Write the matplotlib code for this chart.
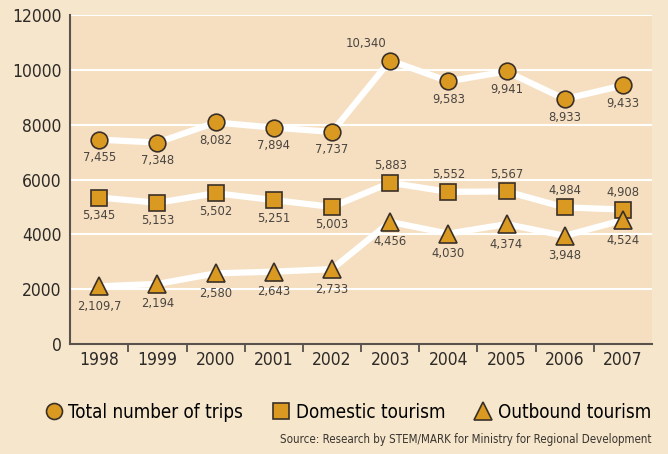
import matplotlib.pyplot as plt

years = ['1998', '1999', '2000', '2001', '2002', '2003', '2004', '2005', '2006', '2007']
total = [7455, 7348, 8082, 7894, 7737, 10340, 9583, 9941, 8933, 9433]
domestic = [5345, 5153, 5502, 5251, 5003, 5883, 5552, 5567, 4984, 4908]
outbound = [2109.7, 2194, 2580, 2643, 2733, 4456, 4030, 4374, 3948, 4524]

total_lbl = ['7,455', '7,348', '8,082', '7,894', '7,737', '10,340', '9,583', '9,941', '8,933', '9,433']
domestic_lbl = ['5,345', '5,153', '5,502', '5,251', '5,003', '5,883', '5,552', '5,567', '4,984', '4,908']
outbound_lbl = ['2,109,7', '2,194', '2,580', '2,643', '2,733', '4,456', '4,030', '4,374', '3,948', '4,524']

fig_bg = '#F6E7CC'
ax_bg = '#F5DFC0'
orange = '#DA9A22'
edge = '#3A3028'
txt = '#4A4440'
cond = {'family': 'DejaVu Sans', 'stretch': 'condensed'}

fig = plt.figure(figsize=(6.68, 4.54), dpi=100, facecolor=fig_bg)
ax = fig.add_axes([0.105, 0.242, 0.871, 0.725])
ax.set_facecolor(ax_bg)

x = list(range(len(years)))

for vals, mk, ms in [(total, 'o', 12), (domestic, 's', 11.5), (outbound, '^', 13)]:
    ax.plot(x, vals, color='white', lw=4.5, zorder=3, solid_capstyle='round')
    ax.plot(x, vals, linestyle='none', marker=mk, ms=ms, mfc=orange, mec=edge, mew=1.2, zorder=4)

# value labels
for i in x:
    dx = -24 if i == 5 else 0
    dy = 17 if i == 5 else -18
    ax.annotate(total_lbl[i], (i, total[i]), xytext=(dx, dy), textcoords='offset pixels',
                ha='center', va='center', fontsize=9.3, color=txt, **cond)
    dy = 17 if i >= 5 else -18
    ax.annotate(domestic_lbl[i], (i, domestic[i]), xytext=(0, dy), textcoords='offset pixels',
                ha='center', va='center', fontsize=9.3, color=txt, **cond)
    dy = -20
    ax.annotate(outbound_lbl[i], (i, outbound[i]), xytext=(0, dy), textcoords='offset pixels',
                ha='center', va='center', fontsize=9.3, color=txt, **cond)

ax.set_xlim(-0.5, 9.5)
ax.set_ylim(0, 12000)
ax.set_yticks(range(0, 12001, 2000))
ax.set_xticks(x)
ax.set_xticklabels(years)
ax.set_xticks([i + 0.5 for i in range(9)], minor=True)
ax.tick_params(axis='x', which='major', length=0, pad=5, labelsize=12.5, labelcolor='#2E2A28')
ax.tick_params(axis='x', which='minor', length=6, width=1.2, color='#4A4440', direction='out')
ax.tick_params(axis='y', length=0, pad=6, labelsize=12.5, labelcolor='#2E2A28')
for lbl in ax.get_xticklabels() + ax.get_yticklabels():
    lbl.set_fontstretch('condensed')
ax.grid(axis='y', color='white', lw=1.5, zorder=1)
ax.set_axisbelow(True)
for s in ['top', 'right']:
    ax.spines[s].set_visible(False)
for s in ['left', 'bottom']:
    ax.spines[s].set_color('#5A524C')
    ax.spines[s].set_linewidth(1.5)
    ax.spines[s].set_zorder(5)

# legend
handles = [
    plt.Line2D([], [], ls='none', marker='o', ms=11.5, mfc=orange, mec=edge, mew=1.2),
    plt.Line2D([], [], ls='none', marker='s', ms=11.5, mfc=orange, mec=edge, mew=1.2),
    plt.Line2D([], [], ls='none', marker='^', ms=12.5, mfc=orange, mec=edge, mew=1.2),
]
names = ['Total number of trips', 'Domestic tourism', 'Outbound tourism']
fig.legend(handles, names, loc='center right', bbox_to_anchor=(1.0, 0.092), ncol=3, frameon=False,
           handlelength=1.0, handletextpad=0.3, columnspacing=1.5,
           prop={'family': 'DejaVu Sans', 'stretch': 'condensed', 'size': 13.5})

fig.text(0.976, 0.031, 'Source: Research by STEM/MARK for Ministry for Regional Development',
         ha='right', va='center', fontsize=8.3, color='#3A3430', **cond)

fig.savefig('out.png', dpi=100, facecolor=fig_bg)
